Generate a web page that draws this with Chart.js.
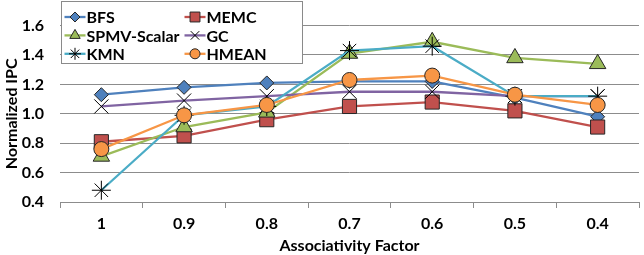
<!DOCTYPE html>
<html>
<head>
<meta charset="utf-8">
<script src="https://cdn.jsdelivr.net/npm/chart.js@4/dist/chart.umd.min.js"></script>
<style>
  html, body { margin: 0; padding: 0; background: #fff; overflow: hidden; }
  #wrap { width: 650px; height: 255px; position: relative; }
</style>
</head>
<body>
<div id="wrap"><canvas id="c"></canvas></div>
<script>
// values
const categories = ["1", "0.9", "0.8", "0.7", "0.6", "0.5", "0.4"];
const bfs   = [1.13, 1.18, 1.21, 1.22, 1.22, 1.11, 0.98];
const memc  = [0.81, 0.85, 0.96, 1.05, 1.08, 1.02, 0.91];
const spmv  = [0.71, 0.91, 1.01, 1.41, 1.49, 1.38, 1.34];
const gc    = [1.05, 1.09, 1.12, 1.15, 1.15, 1.12, 1.12];
const kmn   = [0.48, 0.99, 1.05, 1.43, 1.46, 1.12, 1.12];
const hmean = [0.76, 0.99, 1.06, 1.23, 1.26, 1.13, 1.06];

const FONT = "Lato";
const TEXT = "#000";
const GRID = "#8c8c8c";
const EDGE = "#262626";
const bold = (size) => ({ family: FONT, size, weight: "bold" });

// label, values, line colour, marker style, marker radius, legend radius
const seriesDefs = [
  ["BFS",         bfs,   "#4f81bd", "rectRot",  7,   5],
  ["MEMC",        memc,  "#c0504d", "rect",     10,  7],
  ["SPMV-Scalar", spmv,  "#9bbb59", "triangle", 9.5, 6],
  ["GC",          gc,    "#8064a2", "crossRot", 10,  6],
  ["KMN",         kmn,   "#4bacc6", "star",     9.5, 6],
  ["HMEAN",       hmean, "#f79646", "circle",   7.5, 5],
];

const datasets = seriesDefs.map(([label, data, color, style, r], i) => {
  const isLine = style === "crossRot" || style === "star";
  return {
    label, data,
    borderColor: color,
    borderWidth: 2.3,
    pointStyle: style,
    pointRadius: r,
    pointHoverRadius: r,
    pointBackgroundColor: isLine ? "transparent" : color,
    pointBorderColor: isLine ? "#000" : EDGE,
    pointBorderWidth: 1,
    fill: false,
    tension: 0,
    order: seriesDefs.length - i, // later series on top, like the source
  };
});

// two-column boxed legend in the top-left corner of the plot
const boxLegend = {
  id: "boxLegend",
  afterDraw(chart) {
    const { ctx, chartArea } = chart;
    const x0 = chartArea.left + 1.5;
    const y0 = 1.5;
    ctx.save();
    ctx.fillStyle = "#fff";
    ctx.strokeStyle = "#8a8a8a";
    ctx.lineWidth = 1;
    ctx.fillRect(x0, y0, 241, 62);
    ctx.strokeRect(x0, y0, 241, 62);
    ctx.font = "bold 16px " + FONT;
    ctx.textBaseline = "middle";
    seriesDefs.forEach(([label, , color, style, , lr], i) => {
      const col = i % 2, row = Math.floor(i / 2);
      const lx = x0 + 3 + col * 120;
      const ly = y0 + 15.5 + row * 18.4;
      ctx.strokeStyle = color;
      ctx.lineWidth = 2.3;
      ctx.beginPath();
      ctx.moveTo(lx, ly);
      ctx.lineTo(lx + 21, ly);
      ctx.stroke();
      const isLine = style === "crossRot" || style === "star";
      ctx.fillStyle = color;
      ctx.strokeStyle = isLine ? "#000" : EDGE;
      ctx.lineWidth = 1;
      Chart.helpers.drawPoint(ctx, { pointStyle: style, radius: lr, rotation: 0, borderWidth: 1 }, lx + 10.5, ly);
      ctx.fillStyle = TEXT;
      ctx.fillText(label, lx + 22, ly + 1);
    });
    ctx.restore();
  }
};

new Chart(document.getElementById("c"), {
  type: "line",
  data: { labels: categories, datasets },
  options: {
    responsive: true,
    maintainAspectRatio: false,
    animation: false,
    layout: { padding: { top: 10, right: 0, left: 0, bottom: 0 } },
    plugins: { legend: { display: false }, tooltip: { enabled: false } },
    scales: {
      x: {
        offset: true,
        grid: { drawOnChartArea: false, drawTicks: true, tickLength: 6, color: GRID, offset: true },
        border: { display: true, color: GRID },
        ticks: { color: TEXT, font: bold(16), padding: 6, maxRotation: 0 },
        title: { display: true, text: "Associativity Factor", color: TEXT, font: bold(16), padding: { top: 0, bottom: 0 } },
        afterFit(scale) { scale.height = 53; },
      },
      y: {
        min: 0.4, max: 1.6,
        grid: { color: GRID, drawTicks: false, lineWidth: 1 },
        border: { display: false },
        ticks: { stepSize: 0.2, color: TEXT, padding: 16, font: bold(16) },
        title: { display: true, text: "Normalized IPC", color: TEXT, font: bold(16), padding: { top: 2, bottom: 0 } },
        afterFit(scale) { scale.width = 60; },
      },
    },
  },
  plugins: [boxLegend],
});
</script>
</body>
</html>
